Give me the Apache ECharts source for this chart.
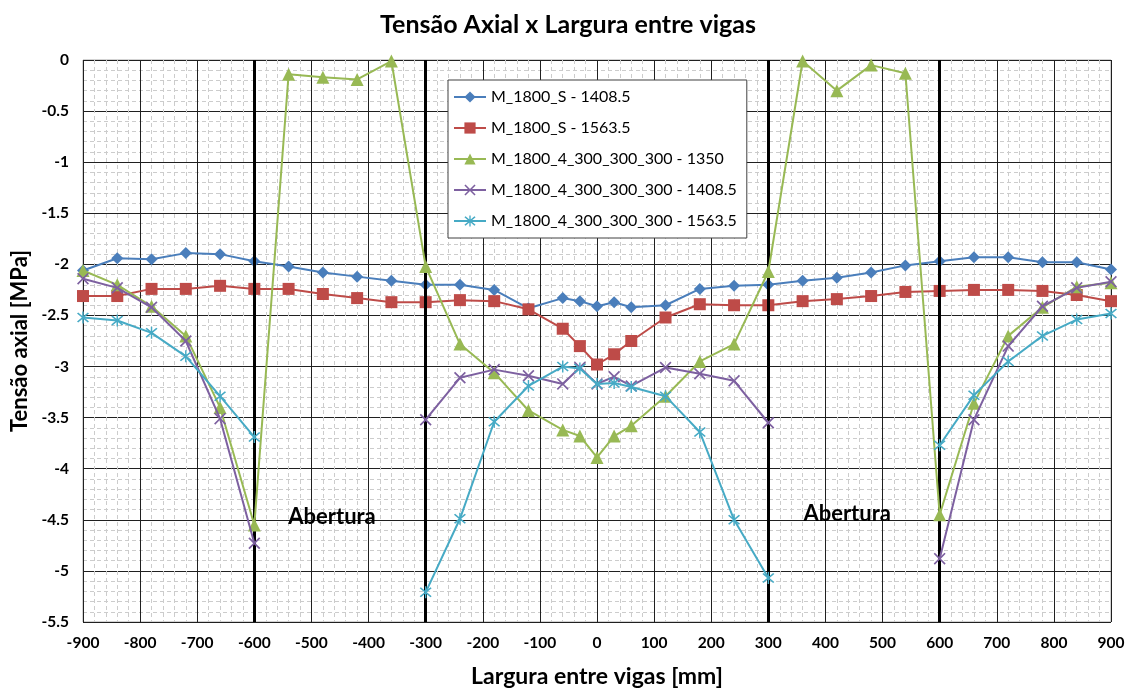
<!DOCTYPE html>
<html>
<head>
<meta charset="utf-8">
<script src="https://cdn.jsdelivr.net/npm/echarts@6/dist/echarts.min.js"></script>
<style>
  html, body { margin: 0; padding: 0; background: #fff; }
  #chart { width: 1136px; height: 693px; }
</style>
</head>
<body>
<div id="chart"></div>
<script>
// Positions across the width between beams [mm]
const xs = [-900, -840, -780, -720, -660, -600, -540, -480, -420, -360, -300, -240, -180, -120, -60, -30, 0,
            30, 60, 120, 180, 240, 300, 360, 420, 480, 540, 600, 660, 720, 780, 840, 900];

// Axial stress [MPa] per model (null = no reading inside the opening)
const m1800S_1408 = [-2.06, -1.94, -1.95, -1.89, -1.90, -1.97, -2.02, -2.08, -2.12, -2.16, -2.20, -2.20, -2.25, -2.43, -2.33, -2.36, -2.41,
                     -2.37, -2.42, -2.40, -2.24, -2.21, -2.20, -2.16, -2.13, -2.08, -2.01, -1.97, -1.93, -1.93, -1.98, -1.98, -2.05];
const m1800S_1563 = [-2.31, -2.31, -2.24, -2.24, -2.21, -2.24, -2.24, -2.29, -2.33, -2.37, -2.37, -2.35, -2.36, -2.44, -2.63, -2.80, -2.98,
                     -2.88, -2.75, -2.52, -2.39, -2.40, -2.40, -2.36, -2.34, -2.31, -2.27, -2.26, -2.25, -2.25, -2.26, -2.30, -2.36];
const m1800_4_1350 = [-2.06, -2.20, -2.41, -2.70, -3.40, -4.55, -0.14, -0.17, -0.19, -0.01, -2.02, -2.78, -3.06, -3.43, -3.62, -3.68, -3.89,
                      -3.68, -3.58, -3.29, -2.95, -2.78, -2.07, -0.01, -0.30, -0.05, -0.13, -4.45, -3.36, -2.70, -2.42, -2.22, -2.18];
const m1800_4_1408 = [-2.14, -2.23, -2.42, -2.75, -3.51, -4.73, null, null, null, null, -3.52, -3.11, -3.03, -3.09, -3.17, -3.01, -3.17,
                      -3.10, -3.19, -3.01, -3.07, -3.14, -3.55, null, null, null, null, -4.88, -3.52, -2.80, -2.41, -2.23, -2.17];
const m1800_4_1563 = [-2.52, -2.55, -2.67, -2.90, -3.29, -3.69, null, null, null, null, -5.21, -4.49, -3.54, -3.19, -3.00, -3.02, -3.17,
                      -3.16, -3.20, -3.29, -3.64, -4.50, -5.07, null, null, null, null, -3.77, -3.28, -2.95, -2.70, -2.54, -2.48];

const seriesNames = ['M_1800_S - 1408.5', 'M_1800_S - 1563.5', 'M_1800_4_300_300_300 - 1350',
                     'M_1800_4_300_300_300 - 1408.5', 'M_1800_4_300_300_300 - 1563.5'];
const seriesValues = [m1800S_1408, m1800S_1563, m1800_4_1350, m1800_4_1408, m1800_4_1563];

// Opening boundaries and labels
const openingEdges = [-600, -300, 300, 600];
const openingLabels = [{ text: 'Abertura', x: -464, y: -4.47 }, { text: 'Abertura', x: 438, y: -4.44 }];

const FONT = 'Lato, "Noto Sans", sans-serif';
const colors = ['#4A7EBB', '#BE4B48', '#98B954', '#7D60A0', '#46AAC5'];

const crossPath = 'path://M0,1 L1,0 L5,4 L9,0 L10,1 L6,5 L10,9 L9,10 L5,6 L1,10 L0,9 L4,5 Z';
const starPath = 'path://M0,1 L1,0 L5,4 L9,0 L10,1 L6,5 L10,9 L9,10 L5,6 L1,10 L0,9 L4,5 Z M4.4,-1 L5.6,-1 L5.6,11 L4.4,11 Z';
const symbols = ['diamond', 'rect', 'triangle', crossPath, starPath];
const symbolSizes = [12, 12, 13, 12, 12];

function pairs(vals) {
  return xs.map((x, i) => [x, vals[i] === null ? '-' : vals[i]]);
}

const series = seriesValues.map((vals, i) => ({
  name: seriesNames[i],
  type: 'line',
  data: pairs(vals),
  connectNulls: false,
  symbol: symbols[i],
  symbolSize: symbolSizes[i],
  color: colors[i],
  lineStyle: { width: 2, color: colors[i] },
  itemStyle: { color: colors[i] },
  z: 3 + i
}));

// Thick boundaries of the openings and their labels
series[0].markLine = {
  silent: true,
  symbol: 'none',
  label: { show: false },
  lineStyle: { color: '#000', width: 3, type: 'solid' },
  data: openingEdges.map(v => ({ xAxis: v }))
};
series[0].markPoint = {
  silent: true,
  symbol: 'rect',
  symbolSize: 1,
  itemStyle: { color: 'rgba(0,0,0,0)' },
  label: {
    show: true, position: 'inside', color: '#000',
    fontFamily: FONT, fontWeight: 'bold', fontSize: 22,
    formatter: p => p.name
  },
  data: openingLabels.map(l => ({ name: l.text, coord: [l.x, l.y] }))
};

const chart = echarts.init(document.getElementById('chart'), null, { renderer: 'canvas' });
chart.setOption({
  animation: false,
  backgroundColor: '#fff',
  title: {
    text: 'Tensão Axial x Largura entre vigas',
    left: 'center',
    top: 7,
    textStyle: { fontFamily: FONT, fontWeight: 'bold', fontSize: 25, color: '#000' }
  },
  legend: {
    orient: 'vertical',
    left: 448,
    top: 80,
    padding: [9, 10, 9, 5],
    itemGap: 15,
    itemWidth: 32,
    itemHeight: 14,
    backgroundColor: '#fff',
    borderColor: '#404040',
    borderWidth: 1,
    textStyle: { fontFamily: FONT, fontSize: 16, color: '#000' },
    data: seriesNames
  },
  grid: {
    left: 83, right: 25, top: 60, bottom: 67,
    show: true, borderColor: '#a6a6a6', borderWidth: 1
  },
  xAxis: {
    type: 'value',
    min: -900, max: 900, interval: 100,
    name: 'Largura entre vigas [mm]',
    nameLocation: 'middle',
    nameGap: 43,
    nameTextStyle: { fontFamily: FONT, fontWeight: 'bold', fontSize: 23, color: '#000' },
    axisLine: { show: false, onZero: false },
    axisTick: { show: false },
    axisLabel: { margin: 13, fontFamily: FONT, fontWeight: 'bold', fontSize: 15.5, color: '#000' },
    splitLine: { show: true, lineStyle: { color: '#202020', width: 1 } },
    minorTick: { show: false, splitNumber: 5 },
    minorSplitLine: { show: true, lineStyle: { color: '#cccccc', width: 1, type: [4, 3] } }
  },
  yAxis: {
    type: 'value',
    min: -5.5, max: 0, interval: 0.5,
    name: 'Tensão axial [MPa]',
    nameLocation: 'middle',
    nameGap: 50,
    nameRotate: 90,
    nameTextStyle: { fontFamily: FONT, fontWeight: 'bold', fontSize: 22, color: '#000' },
    axisLine: { show: false, onZero: false },
    axisTick: { show: false },
    axisLabel: { margin: 14, fontFamily: FONT, fontWeight: 'bold', fontSize: 15.5, color: '#000' },
    splitLine: { show: true, lineStyle: { color: '#202020', width: 1 } },
    minorTick: { show: false, splitNumber: 5 },
    minorSplitLine: { show: true, lineStyle: { color: '#cccccc', width: 1, type: [4, 3] } }
  },
  series: series
});
</script>
</body>
</html>
